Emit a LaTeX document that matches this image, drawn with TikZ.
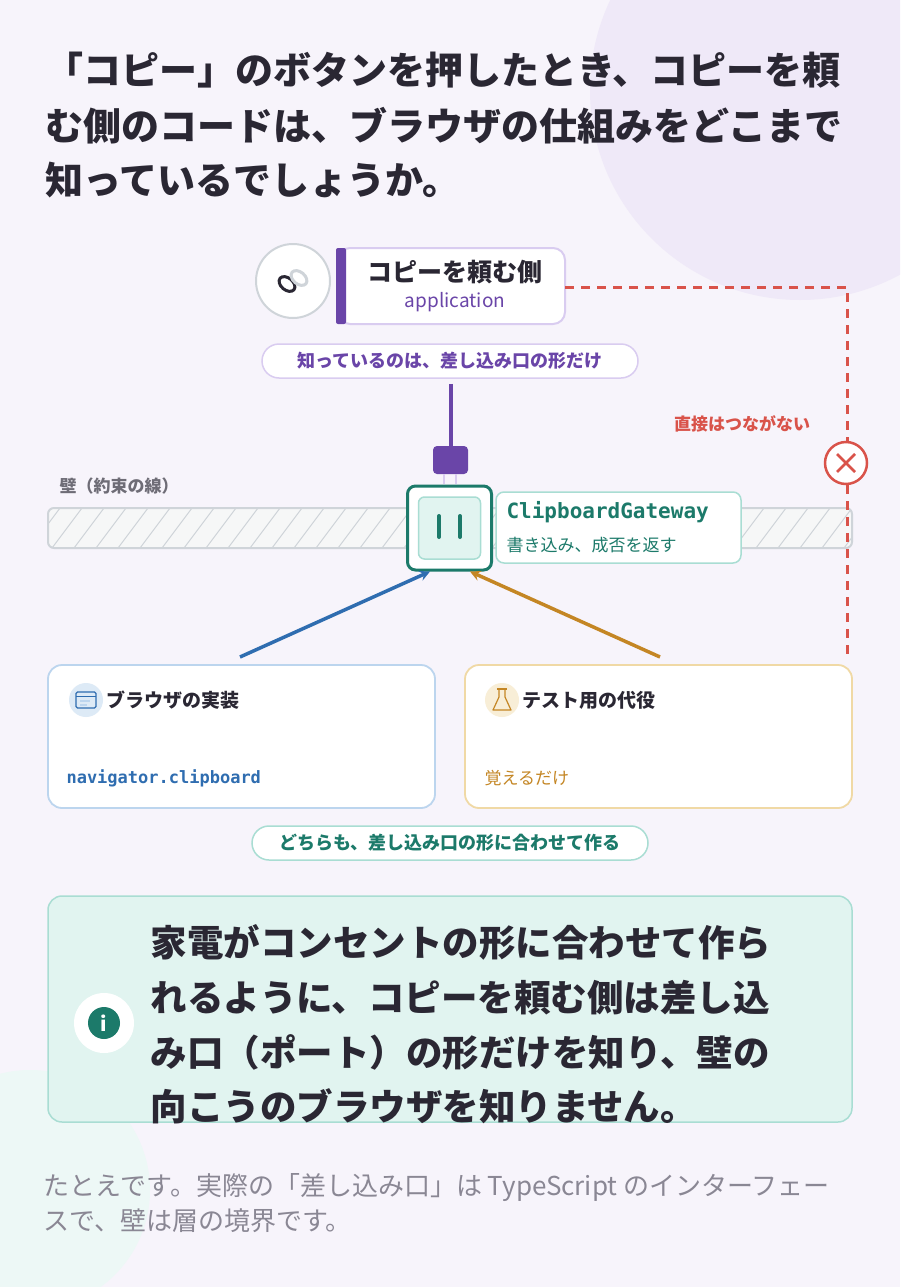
\documentclass[tikz,border=0pt]{standalone}
\usepackage{fontspec}
\setmainfont{Noto Sans CJK JP}
\newfontfamily\codefont{DejaVu Sans Mono}
\usetikzlibrary{positioning}
\usetikzlibrary{calc}
\definecolor{bgpaper}{HTML}{F7F4FB}
\definecolor{bgblob}{HTML}{EFE9F8}
\definecolor{inkdark}{HTML}{2A2733}
\definecolor{appviolet}{HTML}{6A45A8}
\definecolor{violetline}{HTML}{D9CCF0}
\definecolor{portteal}{HTML}{1C7A6A}
\definecolor{tealline}{HTML}{A9DDD3}
\definecolor{tealsoft}{HTML}{E1F4F0}
\definecolor{warnred}{HTML}{D9534A}
\definecolor{browserblue}{HTML}{2F6DB0}
\definecolor{blueline}{HTML}{BCD5EE}
\definecolor{fakeorange}{HTML}{C48624}
\definecolor{orangeline}{HTML}{F0D9A5}
\definecolor{wallgray}{HTML}{CFD4D9}
\definecolor{noteink}{HTML}{8A8794}
\tikzset{
  pill/.style={draw=#1, line width=1.5pt, fill=white, rounded corners=17pt, minimum height=34pt, font=\fontsize{18}{20}\selectfont\bfseries},
  card/.style={draw=#1, line width=1.8pt, fill=white, rounded corners=14pt},
}
\begin{document}
\begin{tikzpicture}[x=1pt, y=-1pt]
\useasboundingbox (0,0) rectangle (900,1287);
\fill[bgpaper] (0,0) rectangle (900,1287);
\begin{scope}
\clip (0,0) rectangle (900,1287);
\fill[bgblob] (800,90) circle (210);
\fill[tealsoft!60] (30,1190) circle (120);
\end{scope}

% title
\node[anchor=west, text=inkdark, font=\fontsize{38}{44}\selectfont\bfseries] (t1) at (42,70) {「コピー」のボタンを押したとき、コピーを頼};
\node[anchor=west, text=inkdark, font=\fontsize{38}{44}\selectfont\bfseries] (t2) at (42,126) {む側のコードは、ブラウザの仕組みをどこまで};
\node[anchor=west, text=inkdark, font=\fontsize{38}{44}\selectfont\bfseries] (t3) at (42,180) {知っているでしょうか。};

% application
\node[circle, draw=wallgray, line width=2pt, fill=white, minimum size=74pt] (appicon) at (293,281) {};
\draw[inkdark, line width=3pt] (287,284) circle[x radius=9pt, y radius=6pt, rotate=-40];
\draw[wallgray, line width=3pt] (299,278) circle[x radius=9pt, y radius=6pt, rotate=-40];
\draw[violetline, line width=2pt, fill=white, rounded corners=12pt] (338,248) rectangle (565,324);
\fill[appviolet, rounded corners=2pt] (336,248) rectangle (346,324);
\node[text=inkdark, font=\fontsize{25}{28}\selectfont\bfseries] (apptitle) at (455,272) {コピーを頼む側};
\node[text=appviolet, font=\fontsize{19}{22}\selectfont] (appsub) at (455,302) {application};
\node[pill=violetline, text=appviolet, minimum width=376pt] (knows) at (450,361) {知っているのは、差し込み口の形だけ};

% wall
\node[anchor=west, text=noteink!80!black, font=\fontsize{17}{20}\selectfont\bfseries] (walllabel) at (56,486) {壁（約束の線）};
\begin{scope}
\clip[rounded corners=6pt] (48,508) rectangle (852,548);
\fill[tealsoft!40!gray!10] (48,508) rectangle (852,548);
\foreach \x in {30,52,...,880}
  \draw[wallgray, line width=1pt] (\x,548) -- (\x+30,508);
\end{scope}
\draw[wallgray, line width=2pt, rounded corners=6pt] (48,508) rectangle (852,548);

% socket and plug
\node[draw=portteal, line width=3pt, fill=white, rounded corners=8pt, minimum size=84pt] (socket) at (449.5,528) {};
\node[draw=tealline, line width=1.5pt, fill=tealsoft, rounded corners=6pt, minimum size=62pt] (socketface) at (449.5,528) {};
\draw[portteal, line width=4pt, line cap=round] (439,516) -- (439,537) (460,516) -- (460,537);
\node[fill=appviolet, rounded corners=4pt, minimum width=35pt, minimum height=28pt] (plug) at (450.5,460) {};
\draw[appviolet, line width=4pt] (knows.south -| plug.north) ++(0,5) coordinate (cord) -- (plug.north);
\draw[violetline, line width=2pt] (444,474) -- (444,484) (456,474) -- (456,484);
\node[draw=tealline, line width=1.5pt, fill=white, rounded corners=8pt, minimum width=245pt, minimum height=71pt] (gateway) at (618.5,527.5) {};
\node[anchor=west, text=portteal, font=\fontsize{21}{24}\selectfont\codefont\bfseries] (gwname) at (503,512) {ClipboardGateway};
\node[anchor=west, text=portteal, font=\fontsize{17}{20}\selectfont] (gwdesc) at (503,545) {書き込み、成否を返す};

% no direct link
\coordinate (redturn) at (847,287);
\coordinate (redend) at (847,660);
\draw[warnred, line width=3pt, dash pattern=on 9pt off 7pt] (565,287) -- (redturn) -- (redend);
\node[circle, draw=warnred, line width=2.5pt, fill=white, minimum size=42pt] (nolink) at (846,463) {};
\draw[warnred, line width=2.5pt] ($(nolink)+(-9,-9)$) -- ($(nolink)+(9,9)$) ($(nolink)+(-9,9)$) -- ($(nolink)+(9,-9)$);
\node[text=warnred, font=\fontsize{17}{20}\selectfont\bfseries] (nolinklabel) at (742,424) {直接はつながない};

% implementations
\draw[card=blueline] (48,665) rectangle (435,808);
\node[circle, fill=blueline!50, minimum size=34pt] (browsericon) at (86,700) {};
\draw[browserblue, line width=1.2pt, rounded corners=1.5pt] (76,692) rectangle (96,708);
\draw[browserblue, line width=1pt] (76,696) -- (96,696);
\draw[blueline, line width=1.5pt] (80,701) -- (90,701) (80,705) -- (87,705);
\node[anchor=west, text=inkdark, font=\fontsize{19}{22}\selectfont\bfseries] (browsertitle) at (103,700) {ブラウザの実装};
\node[anchor=west, text=browserblue, font=\fontsize{17}{20}\selectfont\codefont\bfseries] (browsercode) at (63,778) {navigator.clipboard};

\draw[card=orangeline] (465,665) rectangle (852,808);
\node[circle, fill=orangeline!45, minimum size=34pt] (fakeicon) at (502,700) {};
\draw[fakeorange, line width=1.2pt, line join=round] (499,689) -- (499,697) -- (493,710) -- (511,710) -- (505,697) -- (505,689);
\draw[fakeorange, line width=1.2pt] (497,689) -- (507,689);
\node[anchor=west, text=inkdark, font=\fontsize{19}{22}\selectfont\bfseries] (faketitle) at (519,700) {テスト用の代役};
\node[anchor=west, text=fakeorange, font=\fontsize{17}{20}\selectfont] (fakecode) at (481,778) {覚えるだけ};

\coordinate (browserfrom) at (240,657);
\coordinate (fakefrom) at (660,657);
\draw[->, >=stealth, browserblue, line width=3.5pt] (browserfrom) -- (socket.south west -| 430,580);
\draw[->, >=stealth, fakeorange, line width=3.5pt] (fakefrom) -- (socket.south east -| 470,580);

\node[pill=tealline, text=portteal, minimum width=396pt] (both) at (450,843) {どちらも、差し込み口の形に合わせて作る};

% note
\draw[draw=tealline, line width=1.5pt, fill=tealsoft, rounded corners=14pt] (48,896) rectangle (852,1122);
\node[circle, fill=white, minimum size=60pt] (infobg) at (104,1023) {};
\node[circle, fill=portteal, text=white, minimum size=32pt, inner sep=0pt, font=\fontsize{20}{20}\selectfont\bfseries] (info) at (104,1023) {i};
\foreach \y/\txt in {942/家電がコンセントの形に合わせて作ら, 998/れるように、コピーを頼む側は差し込, 1052/み口（ポート）の形だけを知り、壁の, 1106/向こうのブラウザを知りません。}
  \node[anchor=west, text=inkdark, font=\fontsize{36.5}{40}\selectfont\bfseries] at (147,\y) {\txt};

\node[anchor=west, text=noteink, font=\fontsize{26}{30}\selectfont] (foot1) at (40,1188) {たとえです。実際の「差し込み口」は TypeScript のインターフェー};
\node[anchor=west, text=noteink, font=\fontsize{26}{30}\selectfont] (foot2) at (40,1221) {スで、壁は層の境界です。};
\end{tikzpicture}
\end{document}
